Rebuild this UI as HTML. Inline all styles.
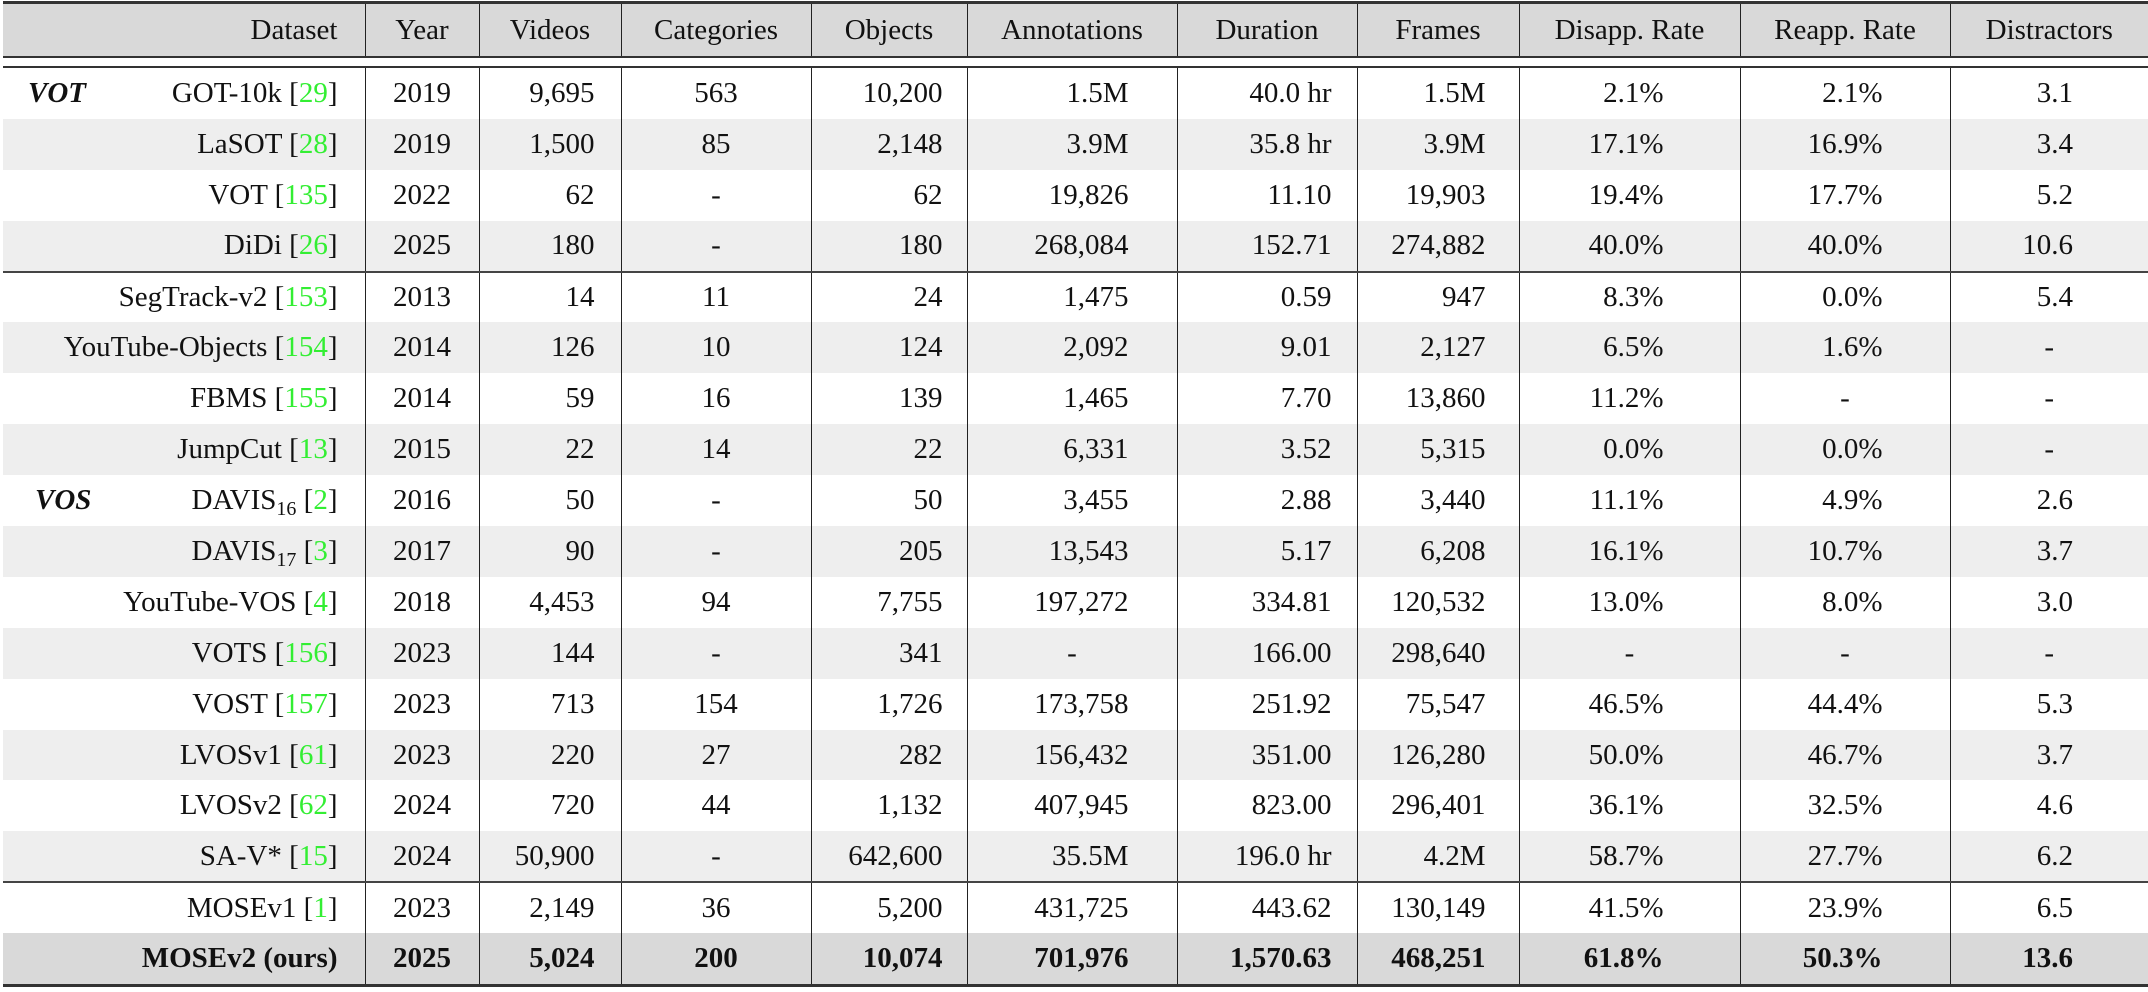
<!DOCTYPE html>
<html><head><meta charset="utf-8"><style>
html,body{margin:0;padding:0;background:#fff;}
body{width:2148px;height:992px;position:relative;overflow:hidden;font-family:"Liberation Serif",serif;font-size:29px;color:#111;}
table{border-collapse:collapse;table-layout:fixed;position:absolute;left:3px;width:2145px;}
td{padding:0;white-space:nowrap;vertical-align:middle;line-height:1;}
td+td{border-left:1.5px solid #222;}
.h td{text-align:center;height:53px;}
#head{top:4px;background:#d9d9d9;}
#body{top:68px;}
#body tr{height:50.9px;}
.g{background:#eee;}
.m{background:#d9d9d9;font-weight:bold;}
.sep td{border-bottom:2.5px solid #444;}
.c{text-align:center;}
.ds{text-align:right;padding-right:27px;position:relative;}
.vt{position:absolute;left:25px;font-weight:bold;font-style:italic;}
.v{text-align:right;padding-right:26px;}
.o{text-align:right;padding-right:24px;}
.a{text-align:right;padding-right:48px;}
.du{text-align:right;padding-right:25px;}
.f{text-align:right;padding-right:33px;}
.dr{text-align:right;padding-right:76px;}
.rr{text-align:right;padding-right:67px;}
.di{text-align:right;padding-right:75px;}
td.dash{text-align:center;padding-right:0;}
i{font-style:normal;color:#3e3;}
sub{font-size:20px;vertical-align:-6px;line-height:0;}
.line{position:absolute;left:3px;width:2145px;background:#333;}
</style></head><body>
<div class="line" style="top:1px;height:3px;"></div>
<table id="head"><colgroup><col style="width:362px"><col style="width:114px"><col style="width:142px"><col style="width:190px"><col style="width:156px"><col style="width:210px"><col style="width:180px"><col style="width:162px"><col style="width:221px"><col style="width:210px"><col style="width:198px"></colgroup>
<tr class="h"><td style="text-align:right;padding-right:27px">Dataset</td><td>Year</td><td>Videos</td><td>Categories</td><td>Objects</td><td>Annotations</td><td>Duration</td><td>Frames</td><td>Disapp. Rate</td><td>Reapp. Rate</td><td>Distractors</td></tr></table>
<div class="line" style="top:56px;height:2px;"></div>
<div class="line" style="top:66px;height:2px;"></div>
<table id="body"><colgroup><col style="width:362px"><col style="width:114px"><col style="width:142px"><col style="width:190px"><col style="width:156px"><col style="width:210px"><col style="width:180px"><col style="width:162px"><col style="width:221px"><col style="width:210px"><col style="width:198px"></colgroup>
<tr><td class="ds"><span class="vt">VOT</span>GOT-10k [<i>29</i>]</td><td class="c">2019</td><td class="v">9,695</td><td class="c">563</td><td class="o">10,200</td><td class="a">1.5M</td><td class="du">40.0 hr</td><td class="f">1.5M</td><td class="dr">2.1%</td><td class="rr">2.1%</td><td class="di">3.1</td></tr>
<tr class="g"><td class="ds">LaSOT [<i>28</i>]</td><td class="c">2019</td><td class="v">1,500</td><td class="c">85</td><td class="o">2,148</td><td class="a">3.9M</td><td class="du">35.8 hr</td><td class="f">3.9M</td><td class="dr">17.1%</td><td class="rr">16.9%</td><td class="di">3.4</td></tr>
<tr><td class="ds">VOT [<i>135</i>]</td><td class="c">2022</td><td class="v">62</td><td class="c">-</td><td class="o">62</td><td class="a">19,826</td><td class="du">11.10</td><td class="f">19,903</td><td class="dr">19.4%</td><td class="rr">17.7%</td><td class="di">5.2</td></tr>
<tr class="g sep"><td class="ds">DiDi [<i>26</i>]</td><td class="c">2025</td><td class="v">180</td><td class="c">-</td><td class="o">180</td><td class="a">268,084</td><td class="du">152.71</td><td class="f">274,882</td><td class="dr">40.0%</td><td class="rr">40.0%</td><td class="di">10.6</td></tr>
<tr><td class="ds">SegTrack-v2 [<i>153</i>]</td><td class="c">2013</td><td class="v">14</td><td class="c">11</td><td class="o">24</td><td class="a">1,475</td><td class="du">0.59</td><td class="f">947</td><td class="dr">8.3%</td><td class="rr">0.0%</td><td class="di">5.4</td></tr>
<tr class="g"><td class="ds">YouTube-Objects [<i>154</i>]</td><td class="c">2014</td><td class="v">126</td><td class="c">10</td><td class="o">124</td><td class="a">2,092</td><td class="du">9.01</td><td class="f">2,127</td><td class="dr">6.5%</td><td class="rr">1.6%</td><td class="di dash">-</td></tr>
<tr><td class="ds">FBMS [<i>155</i>]</td><td class="c">2014</td><td class="v">59</td><td class="c">16</td><td class="o">139</td><td class="a">1,465</td><td class="du">7.70</td><td class="f">13,860</td><td class="dr">11.2%</td><td class="rr dash">-</td><td class="di dash">-</td></tr>
<tr class="g"><td class="ds">JumpCut [<i>13</i>]</td><td class="c">2015</td><td class="v">22</td><td class="c">14</td><td class="o">22</td><td class="a">6,331</td><td class="du">3.52</td><td class="f">5,315</td><td class="dr">0.0%</td><td class="rr">0.0%</td><td class="di dash">-</td></tr>
<tr><td class="ds"><span class="vt" style="left:32px">VOS</span>DAVIS<sub>16</sub> [<i>2</i>]</td><td class="c">2016</td><td class="v">50</td><td class="c">-</td><td class="o">50</td><td class="a">3,455</td><td class="du">2.88</td><td class="f">3,440</td><td class="dr">11.1%</td><td class="rr">4.9%</td><td class="di">2.6</td></tr>
<tr class="g"><td class="ds">DAVIS<sub>17</sub> [<i>3</i>]</td><td class="c">2017</td><td class="v">90</td><td class="c">-</td><td class="o">205</td><td class="a">13,543</td><td class="du">5.17</td><td class="f">6,208</td><td class="dr">16.1%</td><td class="rr">10.7%</td><td class="di">3.7</td></tr>
<tr><td class="ds">YouTube-VOS [<i>4</i>]</td><td class="c">2018</td><td class="v">4,453</td><td class="c">94</td><td class="o">7,755</td><td class="a">197,272</td><td class="du">334.81</td><td class="f">120,532</td><td class="dr">13.0%</td><td class="rr">8.0%</td><td class="di">3.0</td></tr>
<tr class="g"><td class="ds">VOTS [<i>156</i>]</td><td class="c">2023</td><td class="v">144</td><td class="c">-</td><td class="o">341</td><td class="a dash">-</td><td class="du">166.00</td><td class="f">298,640</td><td class="dr dash">-</td><td class="rr dash">-</td><td class="di dash">-</td></tr>
<tr><td class="ds">VOST [<i>157</i>]</td><td class="c">2023</td><td class="v">713</td><td class="c">154</td><td class="o">1,726</td><td class="a">173,758</td><td class="du">251.92</td><td class="f">75,547</td><td class="dr">46.5%</td><td class="rr">44.4%</td><td class="di">5.3</td></tr>
<tr class="g"><td class="ds">LVOSv1 [<i>61</i>]</td><td class="c">2023</td><td class="v">220</td><td class="c">27</td><td class="o">282</td><td class="a">156,432</td><td class="du">351.00</td><td class="f">126,280</td><td class="dr">50.0%</td><td class="rr">46.7%</td><td class="di">3.7</td></tr>
<tr><td class="ds">LVOSv2 [<i>62</i>]</td><td class="c">2024</td><td class="v">720</td><td class="c">44</td><td class="o">1,132</td><td class="a">407,945</td><td class="du">823.00</td><td class="f">296,401</td><td class="dr">36.1%</td><td class="rr">32.5%</td><td class="di">4.6</td></tr>
<tr class="g sep"><td class="ds">SA-V* [<i>15</i>]</td><td class="c">2024</td><td class="v">50,900</td><td class="c">-</td><td class="o">642,600</td><td class="a">35.5M</td><td class="du">196.0 hr</td><td class="f">4.2M</td><td class="dr">58.7%</td><td class="rr">27.7%</td><td class="di">6.2</td></tr>
<tr><td class="ds">MOSEv1 [<i>1</i>]</td><td class="c">2023</td><td class="v">2,149</td><td class="c">36</td><td class="o">5,200</td><td class="a">431,725</td><td class="du">443.62</td><td class="f">130,149</td><td class="dr">41.5%</td><td class="rr">23.9%</td><td class="di">6.5</td></tr>
<tr class="m"><td class="ds">MOSEv2 (ours)</td><td class="c">2025</td><td class="v">5,024</td><td class="c">200</td><td class="o">10,074</td><td class="a">701,976</td><td class="du">1,570.63</td><td class="f">468,251</td><td class="dr">61.8%</td><td class="rr">50.3%</td><td class="di">13.6</td></tr>
</table>
<div class="line" style="top:984px;height:2.5px;"></div>
</body></html>
